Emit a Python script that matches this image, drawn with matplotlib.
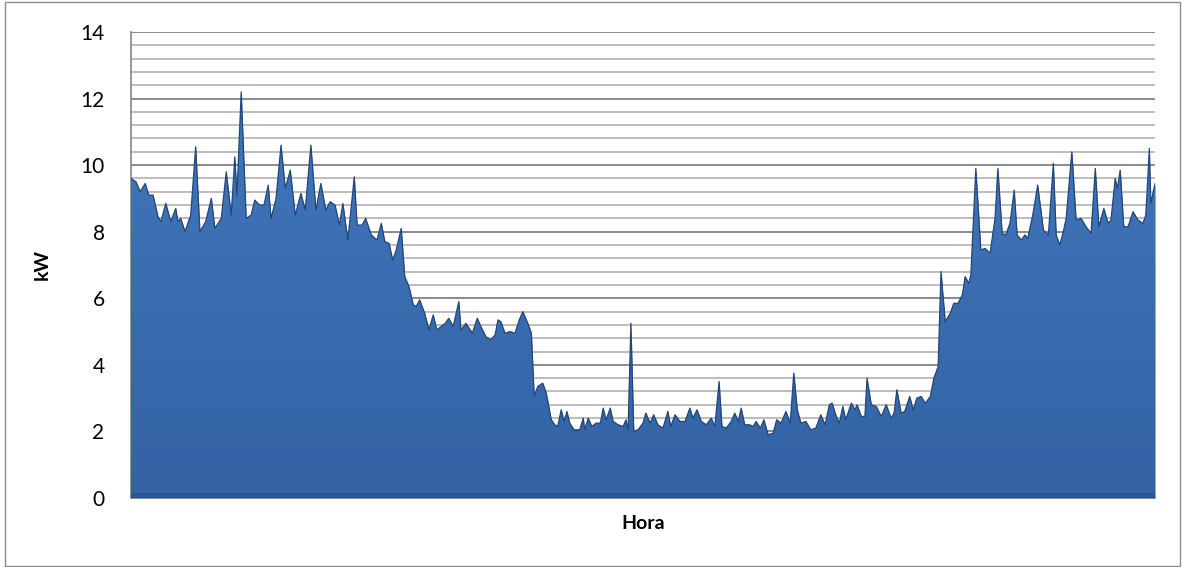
import matplotlib
matplotlib.use('Agg')
import matplotlib.pyplot as plt
import numpy as np
from matplotlib.colors import LinearSegmentedColormap
from matplotlib.patches import Rectangle

# medicion de potencia a lo largo del dia (minuto del dia, kW)
minutos = [
    0, 7, 13, 20, 25, 31, 38, 42, 49, 56, 63, 66, 70, 76, 84, 91, 97, 105,
    113, 118, 127, 134, 141, 146, 149, 155, 162, 169, 174, 181, 187, 193,
    197, 204, 211, 217, 224, 231, 239, 245, 253, 260, 267, 274, 280, 287,
    293, 298, 305, 314, 318, 325, 330, 338, 346, 352, 357, 363, 368, 373,
    380, 385, 391, 397, 401, 406, 413, 419, 425, 430, 436, 442, 447, 453,
    461, 464, 471, 474, 480, 487, 492, 499, 506, 512, 516, 520, 526, 533,
    540, 546, 551, 558, 563, 567, 572, 579, 584, 591, 596, 600, 605, 609,
    613, 617, 623, 631, 636, 638, 643, 648, 654, 660, 664, 668, 674, 678,
    685, 692, 696, 699, 703, 707, 713, 720, 724, 730, 735, 741, 748, 755,
    759, 765, 772, 779, 786, 790, 796, 802, 809, 816, 821, 827, 831, 837,
    844, 849, 854, 858, 863, 870, 875, 879, 885, 890, 896, 903, 908, 914,
    921, 927, 932, 937, 942, 949, 956, 963, 970, 976, 982, 986, 991, 996,
    1001, 1005, 1013, 1018, 1021, 1027, 1032, 1035, 1041, 1048, 1055, 1062,
    1069, 1073, 1077, 1083, 1088, 1095, 1100, 1105, 1111, 1117, 1124, 1129,
    1135, 1139, 1145, 1152, 1157, 1163, 1169, 1173, 1178, 1181, 1188, 1195,
    1201, 1208, 1215, 1219, 1225, 1230, 1236, 1242, 1246, 1252, 1257, 1261,
    1268, 1275, 1283, 1290, 1297, 1301, 1306, 1311, 1315, 1323, 1329, 1336,
    1343, 1350, 1356, 1361, 1368, 1374, 1378, 1384, 1387, 1391, 1396, 1402,
    1409, 1416, 1423, 1427, 1432, 1434, 1440,
]
kw = [
    9.6, 9.5, 9.2, 9.45, 9.1, 9.1, 8.45, 8.3, 8.85, 8.3, 8.7, 8.3, 8.4, 8.0,
    8.5, 10.55, 8.0, 8.3, 9.0, 8.1, 8.4, 9.8, 8.5, 10.25, 9.1, 12.2, 8.4,
    8.5, 8.95, 8.8, 8.8, 9.4, 8.4, 9.0, 10.6, 9.3, 9.85, 8.5, 9.15, 8.65,
    10.6, 8.65, 9.45, 8.65, 8.9, 8.8, 8.2, 8.85, 7.75, 9.65, 8.2, 8.2, 8.4,
    7.9, 7.75, 8.25, 7.7, 7.65, 7.15, 7.45, 8.1, 6.65, 6.35, 5.8, 5.75,
    5.95, 5.55, 5.05, 5.5, 5.05, 5.15, 5.25, 5.4, 5.15, 5.9, 5.05, 5.25,
    5.15, 4.95, 5.4, 5.15, 4.85, 4.75, 4.9, 5.35, 5.3, 4.95, 5.0, 4.95,
    5.35, 5.6, 5.25, 4.95, 3.05, 3.35, 3.45, 3.15, 2.35, 2.2, 2.15, 2.65,
    2.3, 2.6, 2.25, 2.05, 2.05, 2.4, 2.05, 2.4, 2.15, 2.25, 2.25, 2.7, 2.35,
    2.7, 2.3, 2.2, 2.15, 2.35, 2.05, 5.25, 2.0, 2.05, 2.25, 2.55, 2.25, 2.5,
    2.2, 2.1, 2.6, 2.15, 2.5, 2.3, 2.3, 2.7, 2.4, 2.65, 2.3, 2.2, 2.4, 2.15,
    3.5, 2.15, 2.1, 2.3, 2.55, 2.3, 2.7, 2.2, 2.2, 2.15, 2.3, 2.1, 2.35,
    1.9, 1.95, 2.35, 2.25, 2.6, 2.25, 3.75, 2.65, 2.25, 2.3, 2.05, 2.1, 2.5,
    2.2, 2.8, 2.85, 2.5, 2.25, 2.75, 2.35, 2.85, 2.65, 2.8, 2.45, 2.45, 3.6,
    2.8, 2.75, 2.45, 2.8, 2.4, 2.55, 3.25, 2.55, 2.6, 3.05, 2.65, 3.0, 3.05,
    2.85, 3.05, 3.6, 3.95, 6.8, 5.3, 5.55, 5.85, 5.85, 6.1, 6.65, 6.45, 6.7,
    9.9, 7.45, 7.5, 7.35, 8.4, 9.9, 7.95, 7.9, 8.25, 9.25, 7.9, 7.75, 7.9,
    7.8, 8.5, 9.4, 8.05, 7.9, 10.05, 7.9, 7.6, 8.0, 8.4, 10.4, 8.35, 8.4,
    8.15, 7.95, 9.9, 8.15, 8.7, 8.25, 8.35, 9.6, 9.3, 9.85, 8.15, 8.15, 8.6,
    8.35, 8.25, 8.5, 10.5, 8.85, 9.45,
]

plt.rcParams['font.family'] = ['Lato', 'DejaVu Sans']

fig = plt.figure(figsize=(11.82, 5.67), dpi=100)
ax = fig.add_axes([0.1108, 0.1217, 0.8664, 0.8219])

# area con degradado vertical suave
area = ax.fill_between(minutos, kw, 0, color='#3A6CAF', lw=0, zorder=2)
cmap = LinearSegmentedColormap.from_list('bevel', ['#3363A5', '#3A6CB0', '#4277BB'])
grad = np.linspace(0, 1, 256)[:, None]
im = ax.imshow(grad, extent=[0, 1440, 0, 12.4], aspect='auto', cmap=cmap,
               origin='lower', zorder=3, interpolation='bilinear')
im.set_clip_path(area.get_paths()[0], transform=ax.transData)
ax.plot(minutos, kw, color='#23467A', lw=0.9, zorder=4)
# borde inferior mas oscuro
ax.fill_between([0, 1440], 0, 0.15, color='#2B548C', lw=0, zorder=4)

ax.set_xlim(0, 1440)
ax.set_ylim(0, 14)
ax.set_yticks(np.arange(0, 15, 2))
ax.set_yticks(np.arange(0, 14.01, 0.4), minor=True)
ax.set_xticks([])
ax.grid(which='minor', axis='y', color='#BDBDBD', lw=1.4, zorder=0)
ax.grid(which='major', axis='y', color='#8A8A8A', lw=1.4, zorder=0)
ax.set_axisbelow(True)
ax.tick_params(axis='y', which='both', length=0, pad=19, labelsize=15)

for s in ['top', 'right']:
    ax.spines[s].set_visible(False)
for s in ['left', 'bottom']:
    ax.spines[s].set_color('#868686')
    ax.spines[s].set_linewidth(1.2)

ax.set_ylabel('kW', fontsize=14, fontweight='bold', labelpad=21)
ax.set_xlabel('Hora', fontsize=14, fontweight='bold', labelpad=12)

# marco exterior del grafico
fig.patches.append(Rectangle((5 / 1182, 1 / 567), 1175 / 1182, 564 / 567,
                             transform=fig.transFigure, fill=False,
                             edgecolor='#8C8C8C', lw=1.0))

fig.savefig('out.png', dpi=100)
